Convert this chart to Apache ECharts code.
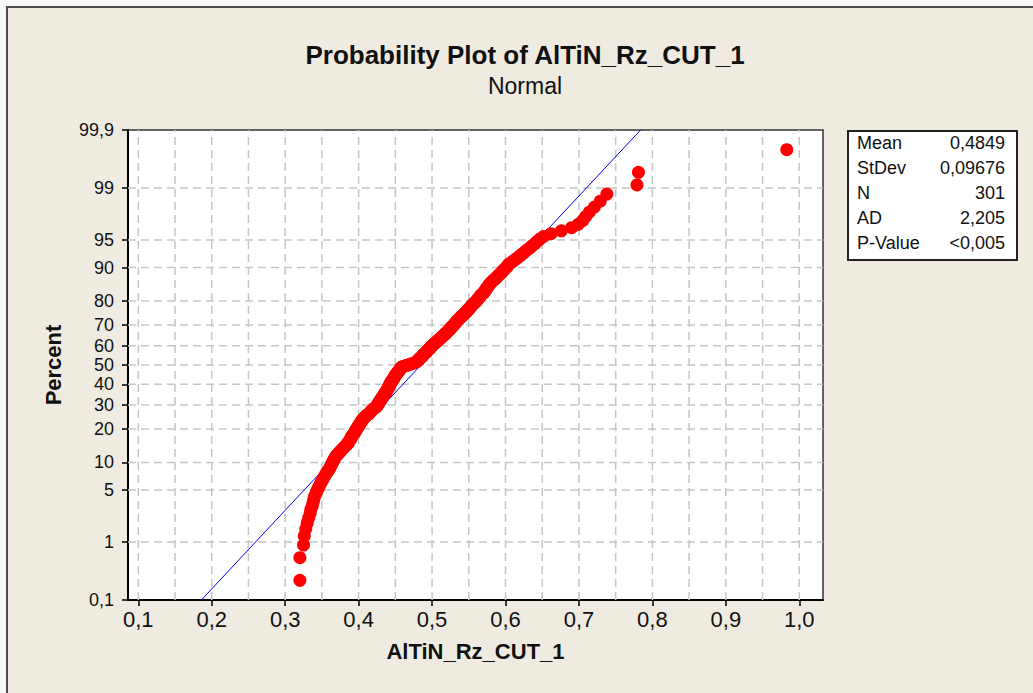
<!DOCTYPE html>
<html><head><meta charset="utf-8">
<script src="https://cdn.jsdelivr.net/npm/echarts@6/dist/echarts.min.js"></script>
<style>
html,body{margin:0;padding:0;background:#f7f7f7;overflow:hidden;width:1033px;height:693px;}
#frame{position:absolute;left:6px;top:6px;width:1100px;height:800px;background:#EFEBE0;border-left:2px solid #4a4a4a;border-top:2px solid #4a4a4a;}
#chart{position:absolute;left:0;top:0;width:1033px;height:693px;}
</style></head><body>
<div id="frame"></div><div id="chart"></div>
<script>
// ---- data (sorted sample values) ----
const values = [
0.320,0.320,0.325,0.326,0.328,0.330,0.332,0.334,0.335,0.337,
0.338,0.339,0.340,0.342,0.343,0.345,0.346,0.348,0.349,0.351,
0.352,0.354,0.355,0.357,0.358,0.360,0.361,0.362,0.363,0.364,
0.365,0.366,0.367,0.368,0.369,0.371,0.372,0.374,0.375,0.377,
0.378,0.380,0.381,0.383,0.384,0.386,0.386,0.387,0.388,0.389,
0.390,0.390,0.391,0.392,0.393,0.394,0.395,0.395,0.396,0.397,
0.398,0.398,0.399,0.400,0.401,0.401,0.402,0.403,0.404,0.404,
0.405,0.406,0.407,0.408,0.409,0.410,0.411,0.413,0.414,0.415,
0.416,0.417,0.418,0.419,0.420,0.421,0.423,0.424,0.425,0.425,
0.426,0.427,0.427,0.428,0.428,0.429,0.430,0.430,0.431,0.431,
0.432,0.433,0.433,0.434,0.435,0.435,0.436,0.436,0.437,0.438,
0.438,0.439,0.439,0.440,0.440,0.441,0.441,0.442,0.442,0.442,
0.443,0.443,0.444,0.444,0.445,0.445,0.446,0.447,0.447,0.448,
0.448,0.449,0.449,0.450,0.450,0.451,0.452,0.452,0.453,0.454,
0.454,0.455,0.456,0.456,0.457,0.457,0.458,0.459,0.461,0.464,
0.467,0.470,0.472,0.475,0.477,0.479,0.480,0.481,0.482,0.482,
0.483,0.484,0.485,0.486,0.487,0.487,0.488,0.489,0.490,0.491,
0.492,0.493,0.493,0.494,0.495,0.496,0.497,0.498,0.498,0.499,
0.500,0.501,0.502,0.503,0.504,0.505,0.506,0.507,0.508,0.509,
0.510,0.511,0.512,0.513,0.514,0.515,0.516,0.517,0.518,0.519,
0.520,0.521,0.522,0.523,0.524,0.525,0.525,0.526,0.527,0.528,
0.529,0.530,0.531,0.532,0.532,0.533,0.534,0.535,0.536,0.537,
0.538,0.539,0.540,0.541,0.543,0.544,0.545,0.546,0.547,0.548,
0.549,0.550,0.551,0.552,0.553,0.554,0.555,0.556,0.557,0.559,
0.560,0.561,0.562,0.563,0.564,0.565,0.566,0.567,0.569,0.570,
0.571,0.572,0.573,0.574,0.575,0.576,0.577,0.578,0.579,0.581,
0.582,0.584,0.586,0.588,0.589,0.591,0.593,0.595,0.596,0.598,
0.600,0.602,0.603,0.605,0.608,0.611,0.614,0.617,0.620,0.623,
0.626,0.629,0.633,0.636,0.640,0.643,0.647,0.652,0.662,0.676,
0.690,0.699,0.705,0.709,0.714,0.721,0.729,0.738,0.779,0.781,
0.983
];
const mean = 0.4849;
const stdev = 0.09676;
const xTickValues = [0.1,0.2,0.3,0.4,0.5,0.6,0.7,0.8,0.9,1.0];
const xTickLabels = ['0,1','0,2','0,3','0,4','0,5','0,6','0,7','0,8','0,9','1,0'];
const xGridValues = [0.1,0.15,0.2,0.25,0.3,0.35,0.4,0.45,0.5,0.55,0.6,0.65,0.7,0.75,0.8,0.85,0.9,0.95,1.0];
const yTickPercents = [0.1,1,5,10,20,30,40,50,60,70,80,90,95,99,99.9];
const yTickLabels = ['0,1','1','5','10','20','30','40','50','60','70','80','90','95','99','99,9'];
const yGridPercents = [1,5,10,20,30,40,50,60,70,80,90,95,99];
const statNames = ['Mean','StDev','N','AD','P-Value'];
const statTexts = ['0,4849','0,09676','301','2,205','<0,005'];

// ---- inverse standard normal (Acklam) ----
function invNorm(p){
  const a=[-3.969683028665376e+01,2.209460984245205e+02,-2.759285104469687e+02,1.383577518672690e+02,-3.066479806614716e+01,2.506628277459239e+00];
  const b=[-5.447609879822406e+01,1.615858368580409e+02,-1.556989798598866e+02,6.680131188771972e+01,-1.328068155288572e+01];
  const c=[-7.784894002430293e-03,-3.223964580411365e-01,-2.400758277161838e+00,-2.549732539343734e+00,4.374664141464968e+00,2.938163982698783e+00];
  const d=[7.784695709041462e-03,3.224671290700398e-01,2.445134176943415e+00,3.754408661907416e+00];
  const pl=0.02425;
  let q,r;
  if(p<pl){q=Math.sqrt(-2*Math.log(p));return (((((c[0]*q+c[1])*q+c[2])*q+c[3])*q+c[4])*q+c[5])/((((d[0]*q+d[1])*q+d[2])*q+d[3])*q+1);}
  if(p<=1-pl){q=p-0.5;r=q*q;return (((((a[0]*r+a[1])*r+a[2])*r+a[3])*r+a[4])*r+a[5])*q/(((((b[0]*r+b[1])*r+b[2])*r+b[3])*r+b[4])*r+1);}
  q=Math.sqrt(-2*Math.log(1-p));return -(((((c[0]*q+c[1])*q+c[2])*q+c[3])*q+c[4])*q+c[5])/((((d[0]*q+d[1])*q+d[2])*q+d[3])*q+1);
}
const n = values.length;
const yTickZ = yTickPercents.map(p=>invNorm(p/100));
const yGridZ = yGridPercents.map(p=>invNorm(p/100));
const yMin = yTickZ[0], yMax = yTickZ[yTickZ.length-1];
const xMin = 0.08597, xMax = 1.0323;
const pts = values.map((v,i)=>[v, invNorm((i+1-0.3)/(n+0.4))]);
const FONT = 'Liberation Sans, Arial, sans-serif';

const chart = echarts.init(document.getElementById('chart'), null, {renderer:'svg'});
const gridStyle = {stroke:'#c6c6c6', lineWidth:1.5, lineDash:[8,5]};
chart.setOption({
  backgroundColor:'transparent',
  animation:false,
  title:[
    {text:'Probability Plot of AlTiN_Rz_CUT_1', left:520, top:37, textAlign:'center',
     textStyle:{fontFamily:FONT, fontSize:26, fontWeight:'bold', color:'#111'}},
    {text:'Normal', left:520, top:69, textAlign:'center',
     textStyle:{fontFamily:FONT, fontSize:23, fontWeight:'normal', color:'#111'}}
  ],
  grid:{left:128, top:130, width:695, height:470, show:true, backgroundColor:'#ffffff', borderColor:'#333', borderWidth:1.5},
  xAxis:{type:'value', min:xMin, max:xMax,
    name:'AlTiN_Rz_CUT_1', nameLocation:'middle', nameGap:40,
    nameTextStyle:{fontFamily:FONT, fontSize:22, fontWeight:'bold', color:'#111'},
    axisLine:{show:true, onZero:false, lineStyle:{color:'#000', width:2}},
    axisTick:{show:true, customValues:xTickValues, length:6, lineStyle:{color:'#000', width:1.5}},
    axisLabel:{show:true, customValues:xTickValues, margin:8, fontFamily:FONT, fontSize:22, color:'#111',
      formatter:v=>{const i=xTickValues.findIndex(t=>Math.abs(t-v)<1e-6);return i>=0?xTickLabels[i]:'';}},
    splitLine:{show:false}},
  yAxis:{type:'value', min:yMin, max:yMax,
    name:'Percent', nameLocation:'middle', nameGap:64, nameRotate:90,
    nameTextStyle:{fontFamily:FONT, fontSize:22, fontWeight:'bold', color:'#111'},
    axisLine:{show:true, onZero:false, lineStyle:{color:'#000', width:2}},
    axisTick:{show:true, customValues:yTickZ, length:6, lineStyle:{color:'#000', width:1.5}},
    axisLabel:{show:true, customValues:yTickZ, showMinLabel:true, showMaxLabel:true, margin:14, fontFamily:FONT, fontSize:18, color:'#111',
      formatter:v=>{const i=yTickZ.findIndex(t=>Math.abs(t-v)<1e-6);return i>=0?yTickLabels[i]:'';}},
    splitLine:{show:false}},
  series:[
    {type:'custom', z:1, silent:true, clip:true,
     data:xGridValues.map(v=>[v,0]), encode:{x:0,y:1},
     renderItem:(params,api)=>{const v=api.value(0);const a=api.coord([v,yMin]);const b=api.coord([v,yMax]);
       return {type:'line', shape:{x1:a[0],y1:a[1],x2:b[0],y2:b[1]}, style:gridStyle};}},
    {type:'custom', z:1, silent:true, clip:true,
     data:yGridZ.map(z=>[0.5,z]), encode:{x:0,y:1},
     renderItem:(params,api)=>{const z=api.value(1);const a=api.coord([xMin,z]);const b=api.coord([xMax,z]);
       return {type:'line', shape:{x1:a[0],y1:a[1],x2:b[0],y2:b[1]}, style:gridStyle};}},
    {type:'line', z:3, silent:true, symbol:'none', clip:true,
     data:[[mean+stdev*yMin,yMin],[mean+stdev*yMax,yMax]],
     lineStyle:{color:'#0000ff', width:1}},
    {type:'scatter', z:4, silent:true, symbol:'circle', symbolSize:13,
     data:pts, itemStyle:{color:'#ff0000', opacity:1}}
  ],
  graphic:[
    {type:'rect', left:847, top:130, shape:{width:169, height:129}, style:{fill:'#fff', stroke:'#222', lineWidth:2}, z:10},
    ...statNames.map((s,i)=>({type:'text', x:857, y:143+25*i, z:11,
       style:{text:s, fontFamily:FONT, fontSize:18, fill:'#111', textAlign:'left', textVerticalAlign:'middle'}})),
    ...statTexts.map((s,i)=>({type:'text', x:1005, y:143+25*i, z:11,
       style:{text:s, fontFamily:FONT, fontSize:18, fill:'#111', textAlign:'right', textVerticalAlign:'middle'}}))
  ]
});
</script>
</body></html>
